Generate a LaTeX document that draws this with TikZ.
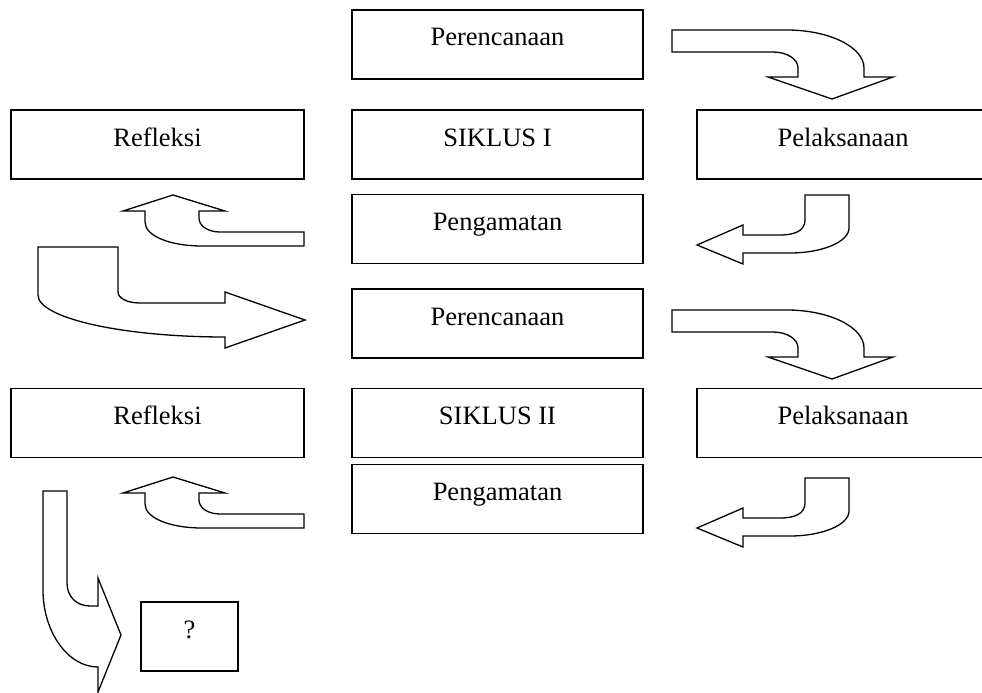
\documentclass[tikz,border=0pt]{standalone}
\usepackage{fontspec}
\setmainfont{Liberation Serif}
\begin{document}
\begin{tikzpicture}[x=1pt,y=-1pt,
  box/.style={draw=black,line width=1.6pt,fill=white,inner sep=0pt,
    text height=10pt,text depth=7pt,minimum height=69pt,
    font=\fontsize{26.5}{30}\selectfont},
  blockarrow/.style={draw=black,line width=1.3pt,fill=white,line join=miter}]
\clip (0,0) rectangle (982,693);
\fill[white] (0,0) rectangle (982,693);
% boxes
\node[box,minimum width=291pt] (per1) at (497.5,44.5) {Perencanaan};
\node[box,minimum width=293pt] (ref1) at (157.5,144.5) {Refleksi};
\node[box,minimum width=291pt] (sik1) at (497.5,144.5) {SIKLUS I};
\node[box,minimum width=292pt] (pel1) at (843,144.5) {Pelaksanaan};
\node[box,minimum width=291pt] (pen1) at (497.5,229) {Pengamatan};
\node[box,minimum width=291pt] (per2) at (497.5,323.5) {Perencanaan};
\node[box,minimum width=293pt] (ref2) at (157.5,423) {Refleksi};
\node[box,minimum width=291pt] (sik2) at (497.5,423) {SIKLUS II};
\node[box,minimum width=292pt] (pel2) at (843,423) {Pelaksanaan};
\node[box,minimum width=291pt] (pen2) at (497.5,499) {Pengamatan};
\node[box,minimum width=97pt] (q) at (189.5,636.5) {?};
% arrow Perencanaan -> Pelaksanaan (both cycles)
\foreach \dy in {-280,0}{
\begin{scope}[shift={(0,\dy)}]
\draw[blockarrow] (672,310) -- (787,310) .. controls (829,310) and (864,327) .. (864,348)
  -- (864,357) -- (893,357) -- (832,379) -- (768,357) -- (798,357) -- (798,348)
  .. controls (798,339) and (787,332) .. (773,332) -- (672,332) -- cycle;
\end{scope}}
% arrow Pelaksanaan -> Pengamatan
\foreach \dy in {0,283}{
\begin{scope}[shift={(0,\dy)}]
\draw[blockarrow] (805,195) -- (849,195) -- (849,228) .. controls (849,242) and (822,253) .. (790,253)
  -- (743,253) -- (743,264) -- (697,245) -- (743,225) -- (743,235) -- (780,235)
  .. controls (796,235) and (805,230) .. (805,220) -- cycle;
\end{scope}}
% arrow Pengamatan -> Refleksi
\foreach \dy in {0,282}{
\begin{scope}[shift={(0,\dy)}]
\draw[blockarrow] (304,232) -- (304,246) -- (202,246) .. controls (170,246) and (145,236) .. (145,222)
  -- (145,211) -- (123,211) -- (173,195) -- (225,211) -- (199,211) -- (199,218)
  .. controls (199,226) and (208,232) .. (220,232) -- cycle;
\end{scope}}
% arrow Refleksi -> Perencanaan II
\draw[blockarrow] (38,247) -- (118,247) -- (118,292) .. controls (118,298) and (127,303) .. (140,303)
  -- (225,303) -- (225,292) -- (305,320) -- (225,348) -- (225,337)
  .. controls (122,337) and (38,318) .. (38,295) -- cycle;
% arrow Refleksi -> ?
\draw[blockarrow] (43,491) -- (67,491) -- (67,583) .. controls (67,597) and (77,606) .. (90,606)
  -- (98,606) -- (98,578) -- (121,635) -- (98,692) -- (98,667)
  .. controls (68,667) and (43,632) .. (43,590) -- cycle;
\end{tikzpicture}
\end{document}
